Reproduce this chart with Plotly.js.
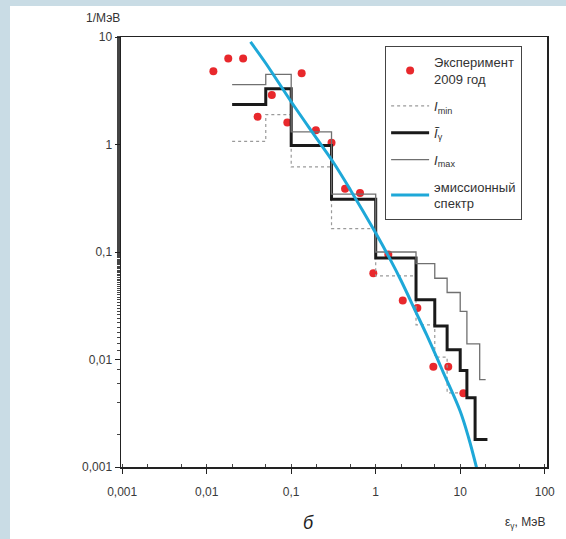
<!DOCTYPE html>
<html>
<head>
<meta charset="utf-8">
<script src="https://cdn.plot.ly/plotly-3.0.1.min.js"></script>
<style>
  html, body { margin: 0; padding: 0; background: #c9dce5; width: 566px; height: 539px; overflow: hidden; }
  #chart { position: absolute; left: 10px; top: 6px; width: 556px; height: 533px; background: #ffffff; }
</style>
</head>
<body>
<div id="chart"></div>
<script>
// Experiment 2009
const expX = [0.012, 0.018, 0.027, 0.040, 0.059, 0.090, 0.133, 0.196, 0.30, 0.434, 0.652, 0.937, 1.41, 2.09, 3.11, 4.81, 7.22, 10.9];
const expY = [4.8, 6.3, 6.3, 1.81, 2.88, 1.60, 4.59, 1.36, 1.04, 0.388, 0.353, 0.0634, 0.0948, 0.0353, 0.0302, 0.00855, 0.00855, 0.00486];

// I_min (step)
const iminEdges = [0.02, 0.05, 0.1, 0.3, 1, 3, 5, 7, 10];
const iMin = [1.07, 1.9, 0.62, 0.165, 0.06, 0.021, 0.0105, 0.0049, 0.0049];

// I~gamma (step)
const igEdges = [0.02, 0.05, 0.1, 0.3, 1, 3, 5, 7, 10, 12, 15, 21];
const iGamma = [2.35, 3.3, 0.98, 0.31, 0.088, 0.036, 0.0205, 0.0123, 0.0079, 0.0044, 0.0018, 0.0018];

// I_max (step)
const imaxEdges = [0.02, 0.05, 0.1, 0.3, 1, 3, 5, 7, 10, 12, 17, 20];
const iMax = [3.6, 4.5, 1.31, 0.345, 0.1, 0.078, 0.057, 0.042, 0.028, 0.014, 0.0065, 0.0065];

// emission spectrum
const emX = [0.033, 0.05, 0.1, 0.2, 0.316, 0.5, 1, 1.5, 2, 3, 4, 6.3, 10, 12.6, 15.8];
const emY = [9.0, 5.7, 2.5, 1.14, 0.68, 0.38, 0.15, 0.084, 0.054, 0.0275, 0.017, 0.0076, 0.0033, 0.00186, 0.00095];

// ticks
const xTickVals = [0.001, 0.01, 0.1, 1, 10, 100];
const xTickText = ['0,001', '0,01', '0,1', '1', '10', '100'];
const yTickVals = [0.001, 0.01, 0.1, 1, 10];
const yTickText = ['0,001', '0,01', '0,1', '1', '10'];

const FONT = '"Liberation Sans", Arial, sans-serif';

const traces = [
  {
    x: expX, y: expY, type: 'scatter', mode: 'markers',
    name: 'Эксперимент<br>2009 год', legendgroup: 'a',
    marker: { color: '#e8282c', size: 8, line: { width: 0 } }
  },
  {
    x: iminEdges, y: iMin, type: 'scatter', mode: 'lines',
    name: '<i>I</i><sub>min</sub>', legendgroup: 'b',
    line: { shape: 'hv', color: '#9a9a9a', width: 1.2, dash: 'dot' }
  },
  {
    x: igEdges, y: iGamma, type: 'scatter', mode: 'lines',
    name: '<i>Ĩ</i><sub>γ</sub>', legendgroup: 'c',
    line: { shape: 'hv', color: '#1a1a1a', width: 3 }
  },
  {
    x: imaxEdges, y: iMax, type: 'scatter', mode: 'lines',
    name: '<i>I</i><sub>max</sub>', legendgroup: 'd',
    line: { shape: 'hv', color: '#707070', width: 1.3 }
  },
  {
    x: emX, y: emY, type: 'scatter', mode: 'lines',
    name: 'эмиссионный<br>спектр', legendgroup: 'e',
    line: { shape: 'spline', color: '#1ea8d8', width: 3 }
  }
];

const layout = {
  width: 556, height: 533,
  paper_bgcolor: '#ffffff', plot_bgcolor: '#ffffff',
  margin: { l: 111, r: 19, t: 31, b: 72 },
  font: { family: FONT, size: 12, color: '#3a3a3a' },
  showlegend: true,
  legend: {
    x: 0.62, y: 0.979, xanchor: 'left', yanchor: 'top',
    bgcolor: '#ffffff', bordercolor: '#444444', borderwidth: 1,
    font: { family: FONT, size: 13, color: '#333333' },
    traceorder: 'grouped', tracegroupgap: 7, itemwidth: 38
  },
  xaxis: {
    type: 'log', range: [-3.014, 2.027],
    tickmode: 'array', tickvals: xTickVals, ticktext: xTickText,
    ticks: 'outside', ticklen: 5, tickwidth: 1, tickcolor: '#222',
    ticklabelstandoff: 8,
    minor: { ticks: 'inside', ticklen: 3, tickcolor: '#444', showgrid: false },
    showgrid: false, zeroline: false,
    showline: true, linecolor: '#222', linewidth: 1.5, mirror: true,
    tickfont: { family: FONT, size: 12, color: '#3a3a3a' }
  },
  yaxis: {
    type: 'log', range: [-3, 1],
    tickmode: 'array', tickvals: yTickVals, ticktext: yTickText,
    ticks: 'outside', ticklen: 5, tickwidth: 1, tickcolor: '#222',
    minor: { ticks: 'outside', ticklen: 3, tickcolor: '#444', showgrid: false },
    showgrid: false, zeroline: false,
    showline: true, linecolor: '#222', linewidth: 1.5, mirror: true,
    tickfont: { family: FONT, size: 12, color: '#3a3a3a' }
  },
  annotations: [
    { text: '1/МэВ', xref: 'paper', yref: 'paper', x: -0.042, y: 1.045,
      xanchor: 'center', yanchor: 'middle', showarrow: false,
      font: { family: FONT, size: 12, color: '#333333' } },
    { text: 'ε<sub>γ</sub>, МэВ', xref: 'paper', yref: 'paper', x: 0.948, y: -0.13,
      xanchor: 'center', yanchor: 'middle', showarrow: false,
      font: { family: FONT, size: 12, color: '#333333' } },
    { text: '<i>б</i>', xref: 'paper', yref: 'paper', x: 0.44, y: -0.13,
      xanchor: 'center', yanchor: 'middle', showarrow: false,
      font: { family: FONT, size: 18, color: '#222222' } }
  ]
};

Plotly.newPlot('chart', traces, layout, { displayModeBar: false, staticPlot: true });
</script>
</body>
</html>
